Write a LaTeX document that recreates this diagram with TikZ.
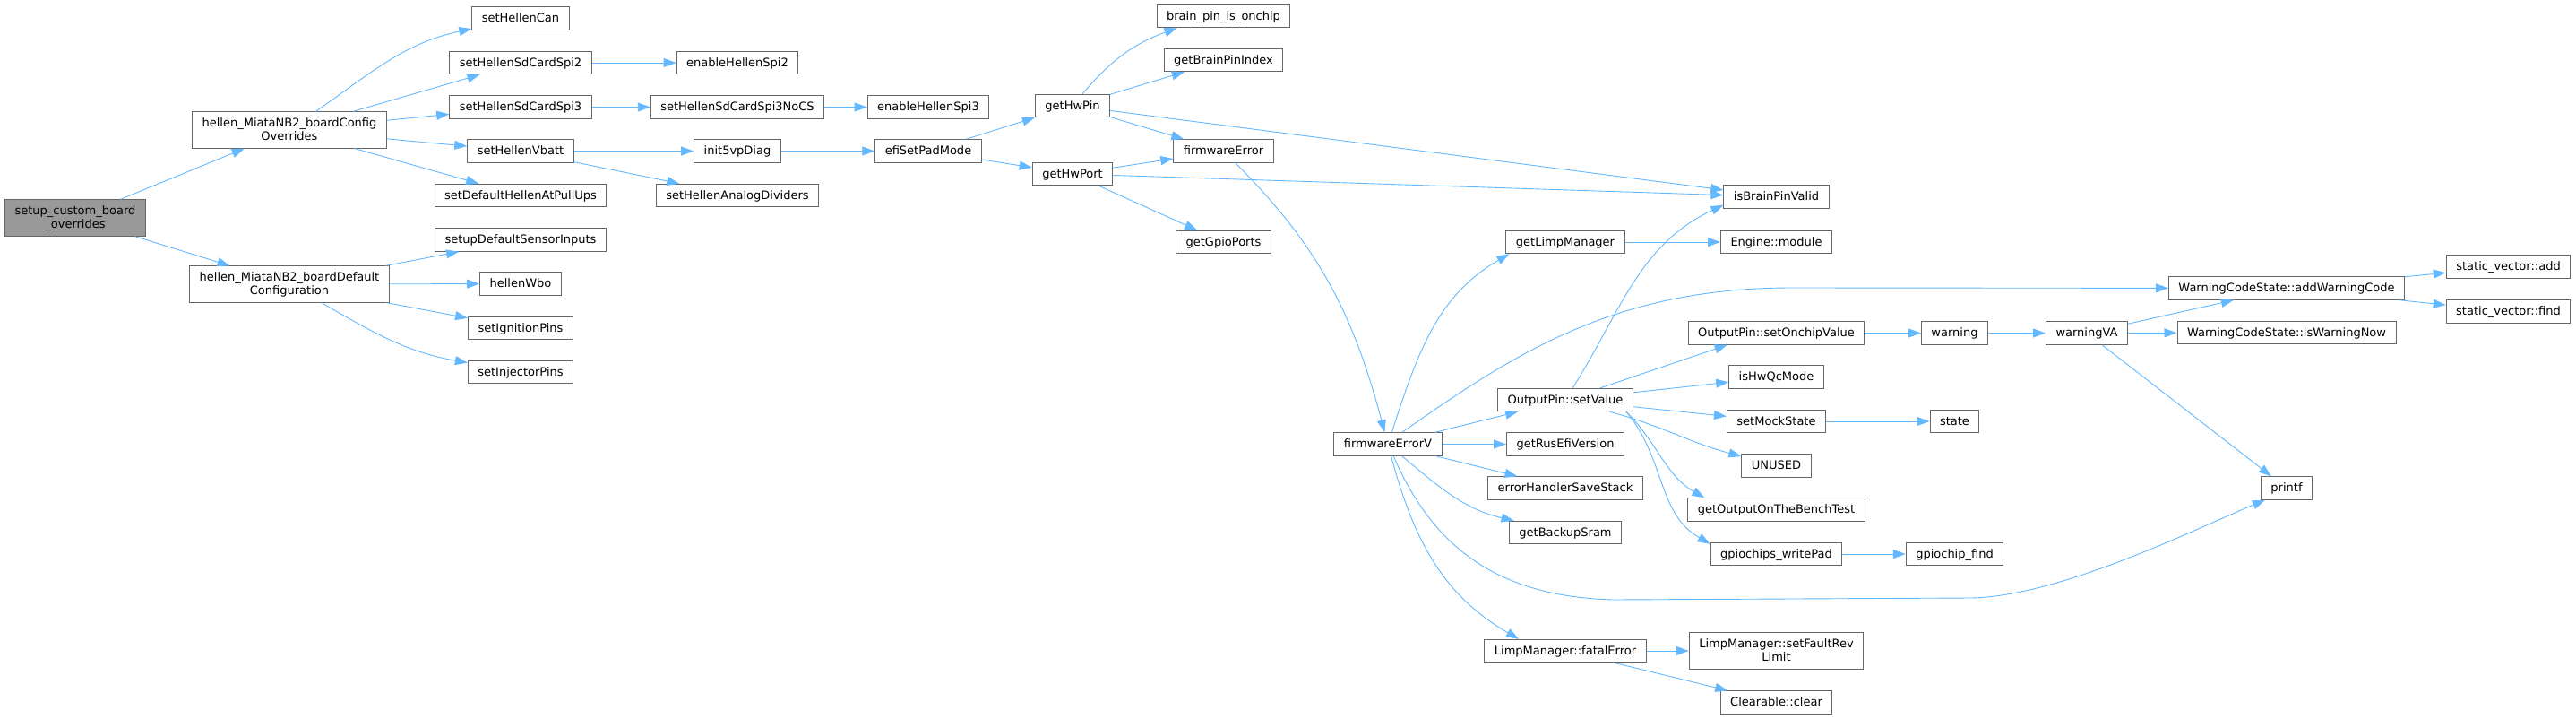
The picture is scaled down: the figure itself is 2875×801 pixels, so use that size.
\documentclass[tikz,border=0pt]{standalone}
\usepackage{fontspec}
\setmainfont{DejaVu Sans}
\usepackage{tikz}
\usetikzlibrary{arrows.meta}
\definecolor{edgeblue}{HTML}{63B8FF}
\definecolor{boxgray}{HTML}{666666}
\definecolor{rootgray}{HTML}{999999}

\begin{document}
\begin{tikzpicture}[x=1pt,y=1pt,
  fn/.style={draw=boxgray,fill=white,line width=1pt,inner xsep=11pt,inner ysep=6.5pt,
    text height=10.5pt,text depth=2pt,align=center,font=\fontsize{13}{14.7}\selectfont},
  twoline/.style={text height=25.2pt},
  rootfn/.style={fn,twoline,fill=rootgray},
  call/.style={draw=edgeblue,line width=0.9pt,-{Triangle[length=14pt,width=10pt]}}]
  \useasboundingbox (0,0) rectangle (2875,-801);
  \node[rootfn] (root) at (84,-243) {setup\_custom\_board\\\_overrides};
  \node[fn,twoline] (cfgo) at (323,-145) {hellen\_MiataNB2\_boardConfig\\Overrides};
  \node[fn,twoline] (dflt) at (323,-317) {hellen\_MiataNB2\_boardDefault\\Configuration};
  \node[fn] (can) at (581,-20.5) {setHellenCan};
  \node[fn] (spitwo) at (581,-70) {setHellenSdCardSpi2};
  \node[fn] (spithree) at (581,-119.5) {setHellenSdCardSpi3};
  \node[fn] (vbatt) at (581,-168.5) {setHellenVbatt};
  \node[fn] (pullups) at (581,-218) {setDefaultHellenAtPullUps};
  \node[fn] (sensors) at (581,-267.5) {setupDefaultSensorInputs};
  \node[fn] (wbo) at (581,-316.5) {hellenWbo};
  \node[fn] (ign) at (581,-366) {setIgnitionPins};
  \node[fn] (inj) at (581,-415) {setInjectorPins};
  \node[fn] (enspitwo) at (823,-70) {enableHellenSpi2};
  \node[fn] (nocs) at (823,-119.5) {setHellenSdCardSpi3NoCS};
  \node[fn] (diag) at (823,-168.5) {init5vpDiag};
  \node[fn] (dividers) at (823,-218) {setHellenAnalogDividers};
  \node[fn] (enspithree) at (1036,-119.5) {enableHellenSpi3};
  \node[fn] (padmode) at (1036,-168.5) {efiSetPadMode};
  \node[fn] (hwpin) at (1197,-118) {getHwPin};
  \node[fn] (hwport) at (1197,-194) {getHwPort};
  \node[fn] (onchip) at (1365.5,-18) {brain\_pin\_is\_onchip};
  \node[fn] (pinindex) at (1365.5,-67) {getBrainPinIndex};
  \node[fn] (fwerr) at (1365.5,-168.5) {firmwareError};
  \node[fn] (gpioports) at (1365.5,-270) {getGpioPorts};
  \node[fn] (fwerrv) at (1549,-495.5) {firmwareErrorV};
  \node[fn] (limp) at (1747,-270) {getLimpManager};
  \node[fn] (setval) at (1747,-446) {OutputPin::setValue};
  \node[fn] (version) at (1747,-495.5) {getRusEfiVersion};
  \node[fn] (savestack) at (1747,-544.5) {errorHandlerSaveStack};
  \node[fn] (sram) at (1747,-594) {getBackupSram};
  \node[fn] (fatal) at (1747,-726) {LimpManager::fatalError};
  \node[fn] (pinvalid) at (1982.5,-219.5) {isBrainPinValid};
  \node[fn] (module) at (1982.5,-270) {Engine::module};
  \node[fn] (onchipval) at (1982.5,-371.5) {OutputPin::setOnchipValue};
  \node[fn] (qcmode) at (1982.5,-420.5) {isHwQcMode};
  \node[fn] (mock) at (1982.5,-470) {setMockState};
  \node[fn] (unused) at (1982.5,-519.5) {UNUSED};
  \node[fn] (bench) at (1982.5,-568.5) {getOutputOnTheBenchTest};
  \node[fn] (writepad) at (1982.5,-618) {gpiochips\_writePad};
  \node[fn,twoline] (revlimit) at (1982.5,-726) {LimpManager::setFaultRev\\Limit};
  \node[fn] (clear) at (1982.5,-783.5) {Clearable::clear};
  \node[fn] (warn) at (2181.5,-371.5) {warning};
  \node[fn] (mstate) at (2181.5,-470) {state};
  \node[fn] (chipfind) at (2181.5,-618) {gpiochip\_find};
  \node[fn] (warnva) at (2329,-371.5) {warningVA};
  \node[fn] (addcode) at (2552,-321.5) {WarningCodeState::addWarningCode};
  \node[fn] (warnnow) at (2552,-371) {WarningCodeState::isWarningNow};
  \node[fn] (printf) at (2552,-544.5) {printf};
  \node[fn] (vadd) at (2799.5,-297.5) {static\_vector::add};
  \node[fn] (vfind) at (2799.5,-347.5) {static\_vector::find};
  \draw[call] (root) -- (cfgo);
  \draw[call] (root) -- (dflt);
  \draw[call] (cfgo) to[out=35,in=192] (can);
  \draw[call] (cfgo) -- (spitwo);
  \draw[call] (cfgo) -- (spithree);
  \draw[call] (cfgo) -- (vbatt);
  \draw[call] (cfgo) -- (pullups);
  \draw[call] (dflt) -- (sensors);
  \draw[call] (dflt) -- (wbo);
  \draw[call] (dflt) -- (ign);
  \draw[call] (dflt) to[out=-30,in=170] (inj);
  \draw[call] (spitwo) -- (enspitwo);
  \draw[call] (spithree) -- (nocs);
  \draw[call] (nocs) -- (enspithree);
  \draw[call] (vbatt) -- (diag);
  \draw[call] (vbatt) -- (dividers);
  \draw[call] (diag) -- (padmode);
  \draw[call] (padmode) -- (hwpin);
  \draw[call] (padmode) -- (hwport);
  \draw[call] (hwpin) to[out=50,in=200] ([xshift=23pt]onchip.south west);
  \draw[call] (hwpin) -- (pinindex);
  \draw[call] (hwpin) -- (fwerr);
  \draw[call] (hwpin) -- (pinvalid);
  \draw[call] (hwport) -- (fwerr);
  \draw[call] (hwport) -- (pinvalid);
  \draw[call] (hwport) -- (gpioports);
  \draw[call] (fwerr) to[out=-45,in=105] (fwerrv);
  \draw[call] (fwerrv) to[out=72,in=210] ([xshift=4pt]limp.south west);
  \draw[call] (fwerrv.40) .. controls +(35:150) and (1800,-321) .. (2000,-321) -- (addcode);
  \draw[call] (fwerrv) -- (setval);
  \draw[call] (fwerrv) -- (version);
  \draw[call] (fwerrv) -- (savestack);
  \draw[call] (fwerrv) to[out=-40,in=167] (sram);
  \draw[call] (fwerrv.-65) .. controls (1595,-600) and (1660,-665) .. (1800,-669)
    -- (2200,-667) .. controls (2300,-665) and (2450,-590) .. ([xshift=5pt]printf.south west);
  \draw[call] (fwerrv) to[out=-75,in=150] ([xshift=-52pt]fatal.north);
  \draw[call] (limp) -- (module);
  \draw[call] (setval) to[out=58,in=205] ([yshift=4pt]pinvalid.south west);
  \draw[call] (setval) -- ([xshift=44pt]onchipval.south west);
  \draw[call] (setval) -- (qcmode);
  \draw[call] (setval) -- (mock);
  \draw[call] (setval) to[out=-15,in=165] (unused);
  \draw[call] ([xshift=-8pt]setval.south east) to[out=-45,in=150] ([xshift=19pt]bench.north west);
  \draw[call] ([xshift=-8pt]setval.south east) to[out=-50,in=150] ([yshift=-2pt]writepad.north west);
  \draw[call] (onchipval) -- (warn);
  \draw[call] (warn) -- (warnva);
  \draw[call] (warnva) -- (addcode);
  \draw[call] (warnva) -- (warnnow);
  \draw[call] (warnva) -- (printf);
  \draw[call] (mock) -- (mstate);
  \draw[call] (writepad) -- (chipfind);
  \draw[call] (fatal) -- (revlimit);
  \draw[call] (fatal) -- (clear);
  \draw[call] (addcode) -- (vadd);
  \draw[call] (addcode) -- (vfind);
\end{tikzpicture}
\end{document}
